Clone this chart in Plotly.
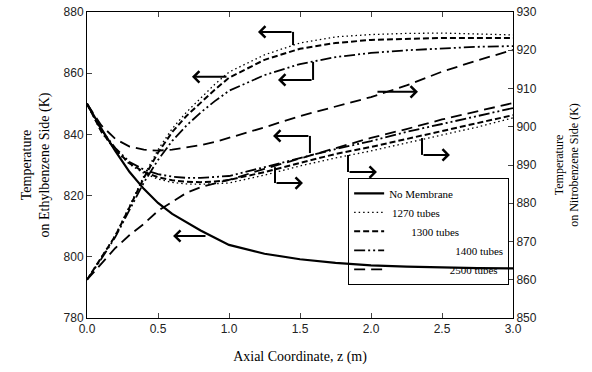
import plotly.graph_objects as go

# ---------------- data ----------------
z = [0, 0.1, 0.2, 0.3, 0.4, 0.5, 0.6, 0.7, 0.8, 0.9, 1.0, 1.25, 1.5, 1.75, 2.0, 2.25, 2.5, 2.75, 3.0]

# Ethylbenzene side (left axis, K)
eb_no_membrane = [850, 842, 834.5, 827.7, 822.2, 817.6, 814, 811.2, 808.6, 806.2, 803.9, 801, 799.2, 798, 797.2, 796.8, 796.5, 796.3, 796.2]
eb_1270 = [850, 840.8, 834.7, 830.2, 827.3, 825.4, 824.3, 823.8, 823.7, 823.8, 824.1, 826.7, 829.7, 832.3, 834.6, 837.2, 839.8, 842.4, 845.4]
eb_1300 = [850, 841, 835, 830.5, 827.8, 826, 825, 824.5, 824.4, 824.6, 825.1, 827.7, 830.7, 833.6, 835.9, 838.5, 841.1, 843.7, 846.3]
eb_1400 = [850, 841.5, 835.5, 831, 828.5, 827, 826.2, 825.8, 825.8, 826.0, 826.4, 829.3, 832.3, 835.2, 837.8, 840.8, 843.4, 846.0, 848.6]
eb_2500 = [850, 843, 838.5, 836, 835, 834.7, 835, 835.7, 836.5, 837.5, 838.8, 842.3, 846, 849, 852.2, 856, 860.5, 864.2, 867.6]

# Nitrobenzene side (right axis, K)
nb_1270 = [860, 865.7, 871.7, 879.3, 887.1, 894.0, 899.5, 903.8, 907.5, 911.1, 914.3, 918.8, 921.9, 923.5, 924.1, 924.4, 924.5, 924.3, 924.0]
nb_1300 = [860, 865.6, 871.5, 879.0, 886.6, 893.2, 898.6, 902.8, 906.3, 909.7, 912.8, 917.5, 920.4, 921.9, 922.7, 923.0, 923.2, 923.2, 923.2]
nb_1400 = [860, 865.4, 871.2, 878.3, 885.4, 891.3, 896.3, 900.3, 903.7, 906.7, 909.4, 913.5, 916.4, 918.2, 919.3, 920.0, 920.5, 920.9, 921.1]
nb_2500 = [860, 864.1, 868.3, 871.7, 874.6, 878.0, 880.3, 882.7, 884.2, 885.2, 886.1, 889.0, 891.6, 894.4, 897.1, 899.4, 901.9, 904.1, 906.2]

series_names = ["No Membrane", "1270 tubes", "1300 tubes", "1400 tubes", "2500 tubes"]
legend_pad = [0, 1, 8, 24, 22]  # extra spacing before legend text (as in the reference)

x_ticks = [0, 0.5, 1.0, 1.5, 2.0, 2.5, 3.0]
left_ticks = [780, 800, 820, 840, 860, 880]
right_ticks = [850, 860, 870, 880, 890, 900, 910, 920, 930]

# pointer arrows: polyline points in (z, left-axis K); last point is the arrow head
arrows = [
    [(1.451, 869.2), (1.451, 873.5), (1.204, 873.5)],
    [(0.993, 858.8), (0.739, 858.8)],
    [(1.592, 863.7), (1.592, 857.8), (1.345, 857.8)],
    [(1.570, 833.9), (1.570, 839.5), (1.310, 839.5)],
    [(0.845, 806.8), (0.606, 806.8)],
    [(1.324, 829.3), (1.324, 824.1), (1.521, 824.1)],
    [(1.838, 833.3), (1.838, 827.7), (2.042, 827.7)],
    [(2.359, 838.8), (2.359, 833.3), (2.556, 833.3)],
    [(2.035, 853.9), (2.331, 853.9)],
]

# ---------------- styles ----------------
styles = {
    "No Membrane": dict(dash="solid", width=2.2),
    "1270 tubes": dict(dash="1.5px,3px", width=1.3),
    "1300 tubes": dict(dash="6px,3px", width=2),
    "1400 tubes": dict(dash="11px,3px,2px,3px,2px,3px", width=1.8),
    "2500 tubes": dict(dash="11px,6px", width=1.8),
}

fig = go.Figure()

def pad(name, n):
    return "\u00a0" * n + name

eb = [eb_no_membrane, eb_1270, eb_1300, eb_1400, eb_2500]
nb = [None, nb_1270, nb_1300, nb_1400, nb_2500]

for i, name in enumerate(series_names):
    st = styles[name]
    fig.add_trace(go.Scatter(
        x=z, y=eb[i], mode="lines", name=pad(name, legend_pad[i]),
        legendgroup=name, showlegend=True, yaxis="y",
        line=dict(color="black", dash=st["dash"], width=st["width"]),
    ))
    if nb[i] is not None:
        fig.add_trace(go.Scatter(
            x=z, y=nb[i], mode="lines", name=name, legendgroup=name,
            showlegend=False, yaxis="y2",
            line=dict(color="black", dash=st["dash"], width=st["width"]),
        ))

shapes = []
annotations = []
for pts in arrows:
    for (x0, y0), (x1, y1) in zip(pts[:-2], pts[1:-1]):
        shapes.append(dict(type="line", xref="x", yref="y", x0=x0, y0=y0, x1=x1, y1=y1,
                           line=dict(color="black", width=2)))
    (tx, ty), (hx, hy) = pts[-2], pts[-1]
    annotations.append(dict(x=hx, y=hy, ax=tx, ay=ty, xref="x", yref="y", axref="x", ayref="y",
                            text="", showarrow=True, arrowhead=4, arrowsize=1.1, arrowwidth=2,
                            arrowcolor="black", standoff=0, startstandoff=0))

tick_font = dict(family="Liberation Sans, Arial, sans-serif", size=12, color="#222")
title_font = dict(family="Liberation Serif, Times New Roman, serif", color="black")

fig.update_layout(
    width=592, height=372,
    margin=dict(l=87, r=79, t=12, b=54),
    paper_bgcolor="white", plot_bgcolor="white",
    shapes=shapes, annotations=annotations,
    xaxis=dict(range=[0, 3], tickvals=x_ticks, tickformat=".1f", ticks="inside", ticklen=5,
               showline=True, linecolor="black", linewidth=1, mirror="ticks", showgrid=False,
               zeroline=False, tickfont=tick_font, automargin=False, ticklabeloverflow="allow",
               title=dict(text="Axial Coordinate, z (m)", font=dict(size=14, **title_font), standoff=15)),
    yaxis=dict(range=[780, 880], tickvals=left_ticks, ticks="inside", ticklen=5,
               showline=True, linecolor="black", linewidth=1, showgrid=False, zeroline=False,
               tickfont=tick_font, automargin=False, ticklabeloverflow="allow",
               title=dict(text="Temperature<br>on Ethylbenzene Side (K)",
                          font=dict(size=14, **title_font), standoff=10)),
    yaxis2=dict(range=[850, 930], tickvals=right_ticks, overlaying="y", side="right",
                ticks="inside", ticklen=5, showline=True, linecolor="black", linewidth=1,
                showgrid=False, zeroline=False, tickfont=tick_font, automargin=False,
                ticklabeloverflow="allow",
                title=dict(text="Temperature<br>on Nitrobenzene Side (K)",
                           font=dict(size=12, **title_font), standoff=18)),
    legend=dict(x=0.613, y=0.458, xanchor="left", yanchor="top", bgcolor="rgba(255,255,255,0)",
                bordercolor="black", borderwidth=1,
                font=dict(family="Liberation Serif, Times New Roman, serif", size=11, color="black"),
                tracegroupgap=0),
    showlegend=True,
)

# remove the default 8px page margin so the 592x372 figure fills the window exactly
fig.write_html("out.html", config={"displayModeBar": False},
               post_script="document.body.style.margin='0';")
